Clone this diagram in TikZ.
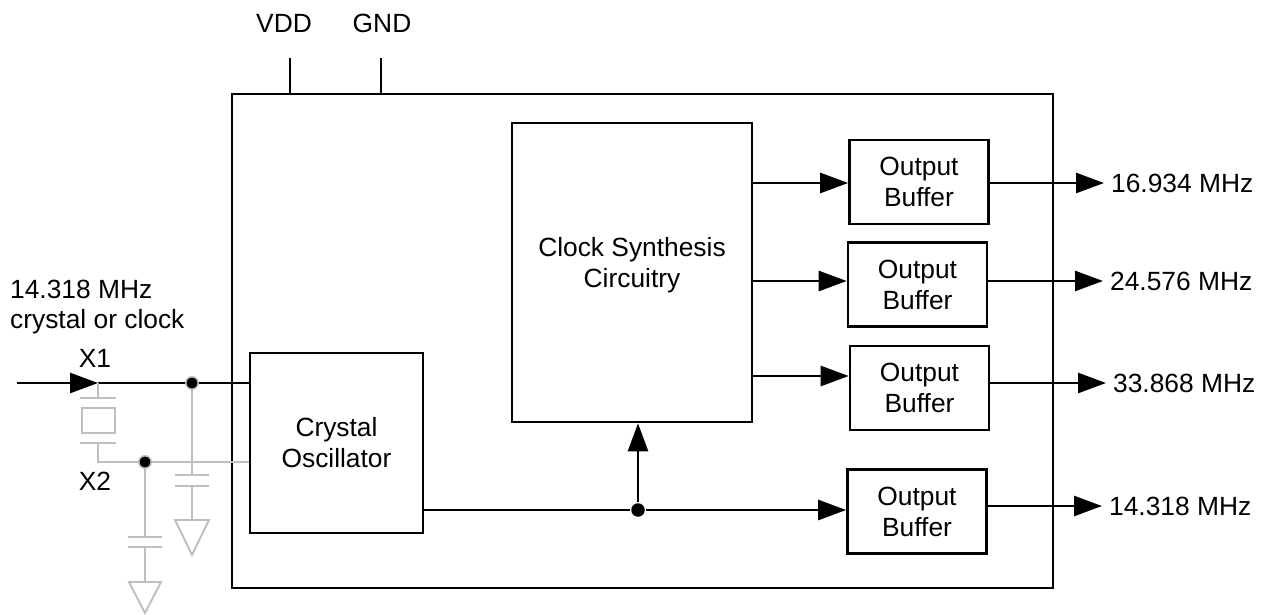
\documentclass[tikz,border=0pt]{standalone}
\usepackage{fontspec}
\setmainfont{Liberation Sans}
\usetikzlibrary{arrows.meta}
\definecolor{wiregray}{HTML}{BFBFBF}

\begin{document}
\begin{tikzpicture}[x=0.02cm, y=-0.02cm, line width=1.5pt,
    font=\fontsize{15}{17.6}\selectfont,
    block/.style={draw, align=center, inner sep=0pt},
    buffer/.style={block, minimum width=2.78cm, minimum height=1.68cm},
    sig/.style={-{Triangle[length=5.6mm, width=4mm]}},
    grey/.style={wiregray, line width=1.1pt},
    dot/.style={circle, fill=black, inner sep=0pt, minimum size=2.7mm},
    gdot/.style={dot, draw=wiregray, line width=0.9pt, minimum size=2.5mm}]
  \useasboundingbox (0,0) rectangle (1272,615);
  \node [draw, inner sep=0pt, minimum width=16.42cm, minimum height=9.88cm] (chip) at (642.5,341) {};
  \node [block, minimum width=3.46cm, minimum height=3.6cm] (osc) at (336.5,443) {Crystal\\Oscillator};
  \node [block, minimum width=4.8cm, minimum height=5.98cm] (synth) at (632,272.5) {};
  \node (synthtext) at (632,265) [align=center] {Clock Synthesis\\Circuitry};
  \node [buffer] (buf1) at (919,182) {Output\\Buffer};
  \node [buffer] (buf2) at (917.5,284.5) {Output\\Buffer};
  \node [buffer] (buf3) at (919.5,388) {Output\\Buffer};
  \node [buffer] (buf4) at (917,511.5) {Output\\Buffer};
  \node [anchor=west] (out1) at (1104,183) {16.934 MHz};
  \node [anchor=west] (out2) at (1103,281) {24.576 MHz};
  \node [anchor=west] (out3) at (1106,383) {33.868 MHz};
  \node [anchor=west] (out4) at (1102,506) {14.318 MHz};
  \node (vdd) at (284,23) {VDD};
  \node (gnd) at (382,23) {GND};
  \node [align=left, anchor=west] (clklabel) at (3,307) {14.318 MHz\\crystal or clock};
  \node (x1) at (95,358) {X1};
  \node (x2) at (95,481) {X2};
  \coordinate (vddpin) at (290,58);
  \coordinate (gndpin) at (381,58);
  \draw (vddpin) -- (vddpin |- chip.north);
  \draw (gndpin) -- (gndpin |- chip.north);
  \coordinate (s1) at (752,183);
  \coordinate (s2) at (752,281);
  \coordinate (s3) at (752,376);
  \draw [sig] (s1) -- (s1 -| buf1.west);
  \draw [sig] (s2) -- (s2 -| buf2.west);
  \draw [sig] (s3) -- (s3 -| buf3.west);
  \draw [sig] (buf1.east |- out1) -- (out1.west);
  \draw [sig] (buf2.east |- out2) -- (out2.west);
  \draw [sig] (buf3.east |- out3) -- (out3.west);
  \draw [sig] (buf4.east |- out4) -- (out4.west);
  \node [dot] (tap) at (638,510) {};
  \draw (osc.east |- tap) -- (tap);
  \draw [sig] (tap) -- (tap -| buf4.west);
  \draw [sig] (tap) -- (tap |- synth.south);
  \coordinate (clkin) at (17,383);
  \coordinate (xpin1) at (98,383);
  \coordinate (xpin2) at (98,462);
  \draw [sig] (clkin) -- (xpin1);
  \draw (xpin1) -- (osc.west |- xpin1);
  \draw [grey] (xpin1) -- (98,398) (80,398) -- (116,398) (82,408) rectangle (115,433)
    (80,443) -- (116,443) (98,443) -- (xpin2) -- (osc.west |- xpin2);
  \draw [grey] (192,383) -- (192,475) (175,475) -- (209,475) (175,486) -- (209,486)
    (192,486) -- (192,520) (175,520) -- (209,520) -- (192,555) -- cycle;
  \draw [grey] (145,462) -- (145,537) (128,537) -- (162,537) (128,547) -- (162,547)
    (145,547) -- (145,582) (129,582) -- (161,582) -- (145,613) -- cycle;
  \node [gdot] (j1) at (192,383) {};
  \node [gdot] (j2) at (145,462) {};
\end{tikzpicture}
\end{document}
